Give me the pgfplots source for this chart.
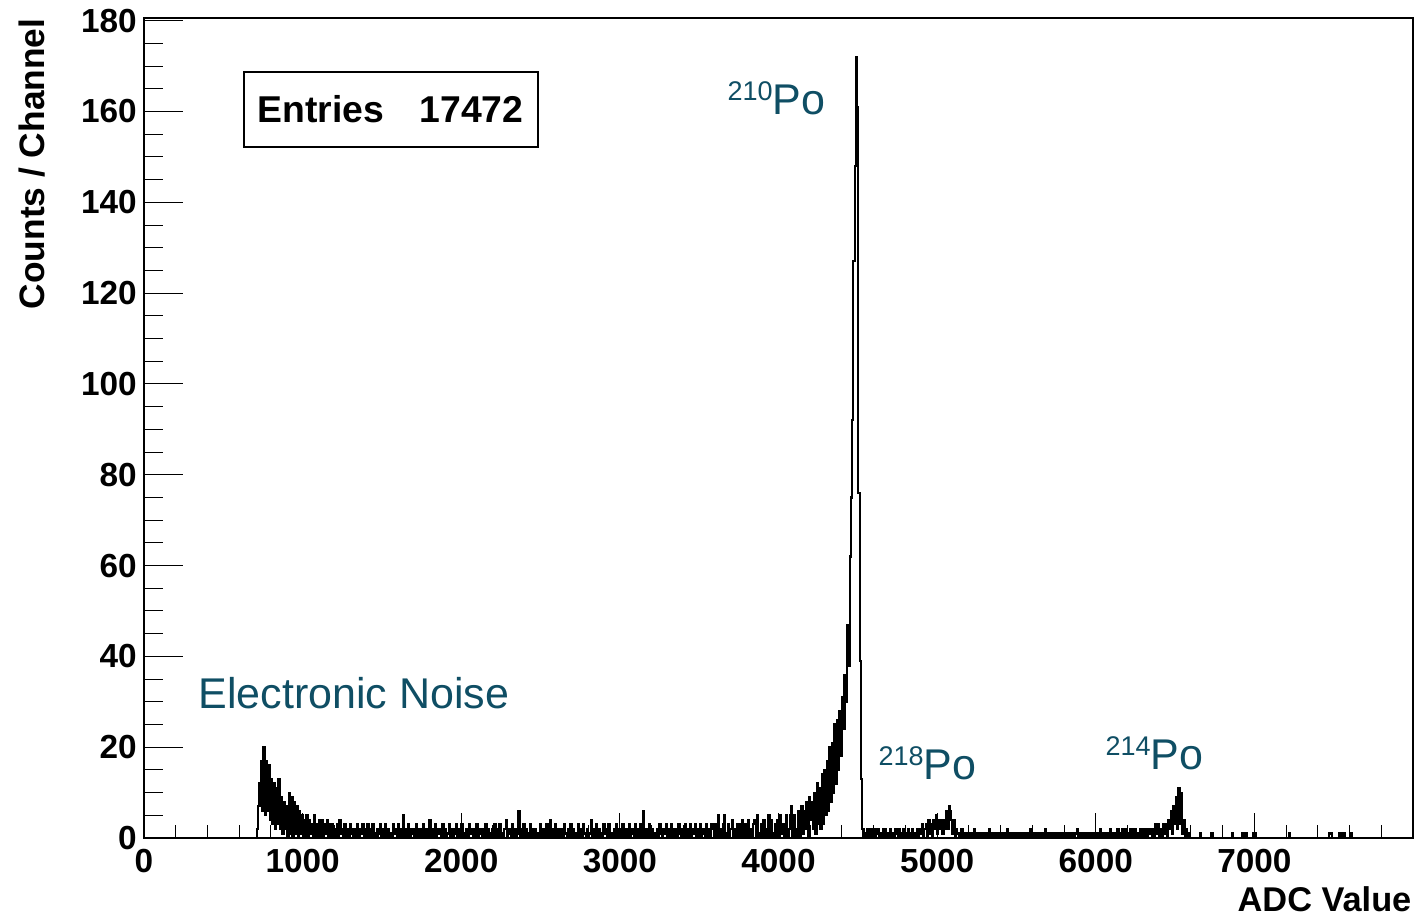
\documentclass[border=0pt]{standalone}
\usepackage{pgfplots}
\pgfplotsset{compat=1.18}
\usepackage{fontspec}
\setmainfont{Liberation Sans}
\definecolor{labelteal}{RGB}{15,78,100}

% isotope label: mass number raised and smaller
\newcommand{\isotope}[2]{\raisebox{4.2pt}{\fontsize{8.1}{9}\selectfont #1}#2}

\begin{document}
\begin{tikzpicture}
\pgfplotsset{
  histframe/.style={
    scale only axis, width=380.7pt, height=246pt,
    xmin=0, xmax=8000, ymin=0, ymax=180.6,
    axis line style={line width=0.5pt},
    tick align=inside,
    xtick pos=bottom, ytick pos=left,
    every tick/.style={black, line width=0.3pt},
    /pgf/number format/assume math mode=true,
    /pgf/number format/1000 sep={},
    clip=false,
  },
}
% main axis: histogram, y ticks, labels
\begin{axis}[histframe,
  xtick=\empty,
  ytick={0,20,...,180},
  minor ytick={5,10,...,175},
  major tick length=11.7pt, minor tick length=5.7pt,
  yticklabel style={font=\fontsize{10}{12}\selectfont\bfseries, inner sep=0pt, xshift=-2pt},
]
% ADC spectrum, 8 ADC channels per bin, first bin at 704
\addplot[const plot, black, line width=0.62pt]
  table[row sep=\\, header=false, x expr=704+8*\coordindex, y index=0] {
0\\2\\7\\12\\17\\6\\20\\5\\17\\6\\
16\\4\\13\\3\\12\\2\\11\\3\\13\\2\\
9\\1\\8\\2\\7\\0\\10\\1\\9\\0\\
8\\1\\7\\0\\6\\1\\5\\0\\4\\0\\
5\\0\\4\\1\\3\\0\\5\\0\\3\\0\\
4\\0\\4\\0\\3\\1\\4\\0\\3\\0\\
3\\0\\2\\0\\3\\0\\4\\1\\2\\0\\
3\\0\\2\\0\\3\\1\\2\\0\\2\\0\\
3\\0\\2\\1\\3\\0\\2\\0\\3\\0\\
2\\0\\3\\0\\1\\0\\2\\1\\3\\0\\
2\\0\\3\\0\\2\\0\\1\\0\\3\\1\\
2\\0\\3\\0\\2\\0\\5\\0\\2\\0\\
3\\0\\2\\1\\2\\0\\3\\0\\2\\0\\
2\\0\\3\\0\\2\\0\\1\\4\\0\\2\\
0\\3\\0\\2\\1\\2\\0\\3\\0\\2\\
0\\1\\3\\0\\2\\0\\2\\1\\3\\0\\
2\\0\\3\\0\\1\\0\\2\\0\\3\\1\\
2\\0\\2\\0\\3\\0\\1\\2\\0\\2\\
0\\3\\0\\2\\1\\0\\2\\0\\3\\0\\
2\\0\\3\\0\\1\\0\\2\\4\\0\\1\\
2\\0\\3\\0\\2\\0\\1\\6\\0\\2\\
0\\3\\0\\2\\1\\0\\3\\0\\2\\0\\
2\\0\\1\\0\\3\\0\\2\\1\\0\\3\\
0\\1\\4\\0\\2\\0\\3\\0\\2\\1\\
0\\2\\0\\3\\1\\0\\2\\0\\3\\0\\
2\\0\\1\\0\\3\\0\\2\\0\\3\\1\\
0\\2\\0\\1\\4\\0\\2\\0\\3\\0\\
2\\0\\1\\0\\3\\1\\2\\0\\3\\0\\
1\\0\\2\\0\\3\\0\\2\\1\\0\\3\\
0\\1\\2\\0\\3\\0\\2\\1\\0\\3\\
0\\2\\0\\3\\0\\6\\1\\0\\2\\0\\
3\\0\\2\\0\\1\\0\\2\\0\\3\\1\\
0\\2\\1\\3\\0\\2\\0\\3\\0\\2\\
0\\2\\0\\3\\1\\0\\2\\0\\3\\0\\
2\\0\\3\\0\\2\\1\\3\\0\\2\\0\\
3\\0\\2\\1\\0\\3\\0\\2\\0\\3\\
2\\0\\3\\0\\5\\0\\2\\0\\3\\5\\
0\\1\\3\\0\\2\\4\\0\\2\\0\\3\\
0\\3\\0\\4\\1\\0\\3\\0\\4\\0\\
2\\0\\3\\4\\0\\5\\1\\0\\3\\0\\
4\\0\\2\\0\\5\\0\\4\\1\\0\\3\\
0\\4\\0\\5\\1\\3\\0\\2\\5\\0\\
2\\5\\7\\0\\5\\2\\0\\6\\3\\0\\
7\\1\\6\\2\\8\\0\\9\\4\\8\\2\\
10\\1\\12\\3\\11\\2\\14\\3\\15\\5\\
17\\6\\20\\8\\21\\10\\25\\12\\26\\15\\
28\\18\\31\\24\\36\\30\\47\\38\\62\\75\\
92\\127\\148\\172\\161\\76\\39\\13\\2\\0\\
1\\0\\2\\0\\1\\2\\0\\2\\0\\1\\
2\\0\\1\\0\\2\\0\\2\\0\\1\\0\\
2\\0\\1\\0\\2\\1\\0\\2\\0\\1\\
2\\0\\1\\0\\2\\0\\1\\2\\0\\1\\
0\\2\\0\\2\\1\\3\\0\\2\\3\\0\\
4\\1\\3\\0\\4\\2\\5\\1\\4\\2\\
4\\1\\4\\2\\6\\2\\7\\6\\4\\1\\
4\\0\\2\\1\\0\\1\\2\\0\\1\\0\\
1\\0\\1\\0\\1\\0\\2\\0\\1\\0\\
1\\0\\1\\0\\1\\0\\1\\0\\2\\0\\
1\\0\\1\\0\\1\\0\\1\\0\\1\\0\\
1\\0\\2\\0\\1\\0\\1\\0\\1\\0\\
1\\0\\1\\0\\1\\0\\1\\0\\1\\0\\
2\\0\\1\\0\\1\\0\\1\\0\\1\\0\\
1\\0\\2\\0\\1\\0\\1\\0\\1\\0\\
1\\0\\1\\0\\1\\0\\1\\0\\1\\0\\
1\\0\\1\\0\\1\\0\\1\\2\\0\\1\\
0\\1\\0\\1\\0\\1\\0\\1\\0\\1\\
0\\1\\0\\1\\0\\2\\0\\1\\0\\1\\
0\\1\\0\\2\\0\\1\\0\\1\\0\\2\\
0\\1\\0\\2\\0\\2\\0\\1\\0\\2\\
0\\2\\0\\2\\0\\1\\0\\2\\0\\2\\
0\\2\\0\\2\\1\\2\\0\\2\\0\\3\\
1\\3\\0\\2\\0\\3\\1\\3\\0\\4\\
2\\6\\1\\7\\3\\9\\2\\11\\3\\10\\
1\\4\\0\\2\\0\\1\\0\\0\\
};
% sparse tail above 6600
\addplot[const plot, black, line width=0.62pt] coordinates {
(6600,0) (6656,1) (6664,0) (6728,1) (6736,0) (6856,1) (6864,0)
(6920,1) (6928,0) (6944,1) (6952,0) (6992,1) (7008,0) (7216,1) (7224,0)
(7472,1) (7488,0) (7536,1) (7544,0) (7560,1) (7568,0) (7608,1) (7616,0)
(7640,0)
};

% statistics box
\draw[line width=0.35pt, fill=white] (axis cs:630.4,152.2) rectangle (axis cs:2483.8,168.7);
\node[anchor=base west, inner sep=0pt, font=\fontsize{11.2}{13}\selectfont\bfseries]
  at (axis cs:712,157.5) {Entries};
\node[anchor=base east, inner sep=0pt, font=\fontsize{11.2}{13}\selectfont\bfseries]
  at (axis cs:2396,157.5) {17472};

% peak annotations
\begin{scope}[every node/.style={anchor=base west, inner sep=0pt, text=labelteal,
    font=\fontsize{12.9}{15}\selectfont}]
  \node at (axis cs:340,28.6) {Electronic Noise};
  \node at (axis cs:3675,159.3) {\isotope{210}{Po}};
  \node at (axis cs:4627,12.8) {\isotope{218}{Po}};
  \node at (axis cs:6058,15.0) {\isotope{214}{Po}};
\end{scope}

% axis titles
\node[rotate=90, anchor=base east, inner sep=0pt, font=\fontsize{10.6}{12}\selectfont\bfseries]
  at ([xshift=-29.7pt]rel axis cs:0,1) {Counts / Channel};
\node[anchor=base east, inner sep=0pt, font=\fontsize{10.3}{12}\selectfont\bfseries]
  at ([xshift=-0.3pt, yshift=-22.1pt]rel axis cs:1,0) {ADC Value};

\coordinate (bbSW) at (rel axis cs:-0.11348,-0.09512);
\coordinate (bbNE) at (rel axis cs:1.00394,1.02195);
\end{axis}

% overlay axis: x ticks with their own lengths
\begin{axis}[histframe,
  ytick=\empty,
  xtick={0,1000,...,7000},
  minor xtick={200,400,...,7800},
  major tick length=7.5pt, minor tick length=3.8pt,
  xticklabel style={font=\fontsize{10}{12}\selectfont\bfseries, inner sep=0pt, anchor=north, yshift=-3.3pt},
]
\end{axis}

\pgfresetboundingbox
\path[use as bounding box] (bbSW) rectangle (bbNE);
\end{tikzpicture}
\end{document}
